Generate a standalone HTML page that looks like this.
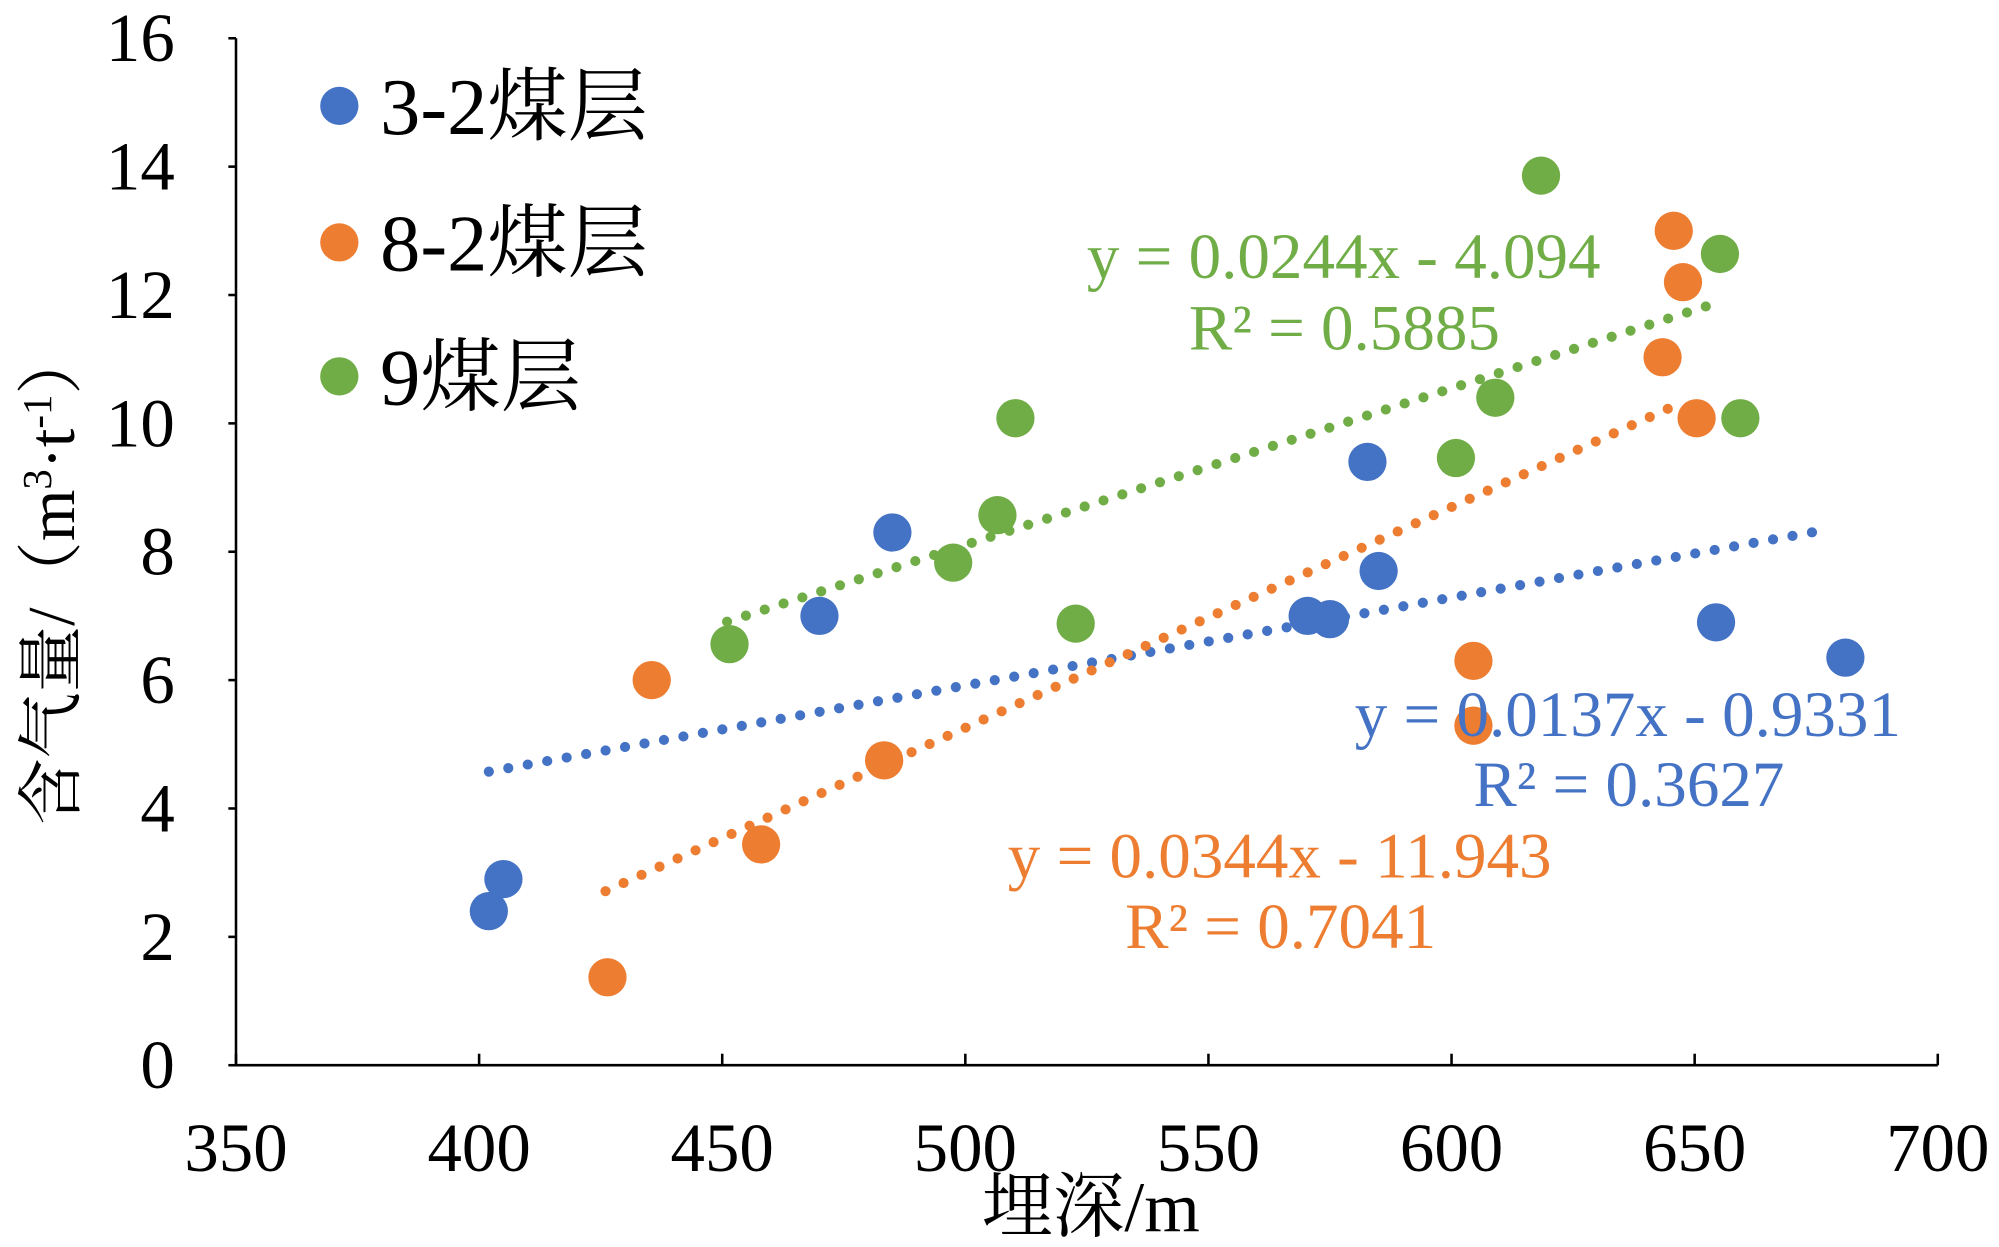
<!DOCTYPE html>
<html><head><meta charset="utf-8"><style>
html,body{margin:0;padding:0;background:#fff;}
svg{display:block;}
text{font-family:"Liberation Serif","Noto Serif CJK SC",serif;}
</style></head><body>
<svg id="chart" width="1999" height="1247" viewBox="0 0 1567 977.5" preserveAspectRatio="none" xmlns="http://www.w3.org/2000/svg"></svg>
<script>
const xTicks=[350,400,450,500,550,600,650,700];
const yTicks=[0,2,4,6,8,10,12,14,16];
const names=["3-2煤层","8-2煤层","9煤层"];
const colors=["#4472C4","#ED7D31","#70AD47"];
const blueX=[402,405,470,485,570.4,575,582.7,585,654.4,681];
const blueY=[2.4,2.9,7.0,8.3,7.0,6.95,9.4,7.7,6.9,6.35];
const orangeX=[426.4,435.5,458,483.3,604.5,604.5,643.4,645.7,647.6,650.4];
const orangeY=[1.37,6.0,3.44,4.75,6.3,5.29,11.03,13.0,12.2,10.08];
const greenX=[451.5,497.5,506.6,510.3,522.7,600.9,609,618.4,655.2,659.4];
const greenY=[6.56,7.83,8.57,10.08,6.88,9.46,10.4,13.86,12.64,10.08];
const slopes=[0.0137,0.0344,0.0244];
const intercepts=[-0.9331,-11.943,-4.094];
const trendStart=[402,426,451];
const trendEnd=[678,648,655];
const eqText=["y = 0.0137x - 0.9331","y = 0.0344x - 11.943","y = 0.0244x - 4.094"];
const r2Text=["0.3627","0.7041","0.5885"];

const svg=document.getElementById('chart');
const NS="http://www.w3.org/2000/svg";
const X0=185,X1=1519,Y0=835,Y1=30;
const sx=v=>X0+(v-350)/(700-350)*(X1-X0);
const sy=v=>Y0-(v-0)/(16-0)*(Y0-Y1);
function mk(tag,attrs,parent){const e=document.createElementNS(NS,tag);for(const k in attrs)e.setAttribute(k,attrs[k]);(parent||svg).appendChild(e);return e;}

let ax=mk('line',{x1:X0,y1:Y1,x2:X0,y2:Y0,stroke:'#000','stroke-width':2});


ax=mk('line',{x1:X0,y1:Y0,x2:X1,y2:Y0,stroke:'#000','stroke-width':2});


xTicks.forEach(t=>{
  const tk=mk('line',{x1:sx(t),y1:Y0,x2:sx(t),y2:Y0-9,stroke:'#000','stroke-width':2});
  
  
  const l=mk('text',{x:sx(t),y:918,'text-anchor':'middle','font-size':54});
  l.textContent=t;
  
  
});
yTicks.forEach(t=>{
  const tk=mk('line',{x1:X0,y1:sy(t),x2:X0-6,y2:sy(t),stroke:'#000','stroke-width':2});
  
  
  const l=mk('text',{x:137,y:sy(t)+18,'text-anchor':'end','font-size':54});
  l.textContent=t;
  
  
});
let xt=mk('text',{x:855,y:965,'text-anchor':'middle','font-size':56});
xt.textContent='埋深/m';


let yt=mk('text',{x:0,y:0,'text-anchor':'middle','font-size':52,transform:'translate(58,452) rotate(-90)'});
yt.innerHTML='含气量/（m<tspan dy="-18" font-size="32">3</tspan><tspan dy="18">·t</tspan><tspan dy="-18" font-size="32">-1</tspan><tspan dy="18">）</tspan>';



[0,1,2].forEach(i=>{
  const f=x=>slopes[i]*x+intercepts[i];
  const ln=mk('line',{x1:sx(trendStart[i]),y1:sy(f(trendStart[i])),x2:sx(trendEnd[i]),y2:sy(f(trendEnd[i])),stroke:colors[i],'stroke-width':8,'stroke-linecap':'round','stroke-dasharray':'0 15.5'});
  
  
});
const sets=[[blueX,blueY],[orangeX,orangeY],[greenX,greenY]];
sets.forEach((s,i)=>{
  s[0].forEach((xv,j)=>{
    const c=mk('circle',{cx:sx(xv),cy:sy(s[1][j]),r:15,fill:colors[i]});
    
    
  });
});
const eqPos=[[1062,577,1155,632],[790,688,882,743],[852,218,932,274]];
[0,1,2].forEach(i=>{
  const p=eqPos[i];
  const e=mk('text',{x:p[0],y:p[1],'font-size':51,fill:colors[i]});
  e.textContent=eqText[i];
  
  
  const r=mk('text',{x:p[2],y:p[3],'font-size':51,fill:colors[i]});
  r.textContent='R² = '+r2Text[i];
  
  
});
const ly=[83,190,295];
names.forEach((n,i)=>{
  const g=mk('g',{});
  
  
  mk('circle',{cx:266,cy:ly[i],r:15,fill:colors[i]},g);
  const t=mk('text',{x:298,y:ly[i]+22,'font-size':63},g);
  t.textContent=n;
});
</script>
</body></html>
